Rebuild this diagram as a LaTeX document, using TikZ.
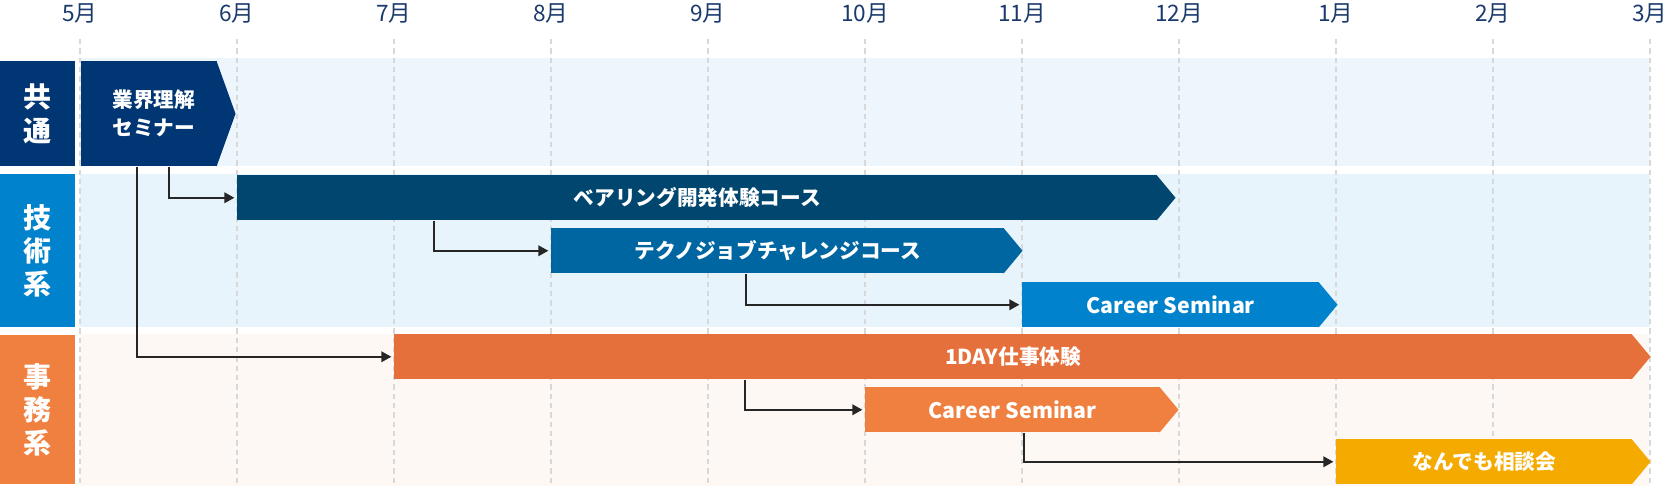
\documentclass[tikz,border=0pt]{standalone}
\usepackage{fontspec}
\setmainfont{Noto Sans CJK JP}
\usetikzlibrary{arrows.meta, calc}
\definecolor{monthNavy}{RGB}{26,58,108}
\definecolor{commonNavy}{RGB}{0,54,115}
\definecolor{techBlue}{RGB}{0,130,204}
\definecolor{officeOrange}{RGB}{240,128,64}
\definecolor{softCommon}{RGB}{238,246,253}
\definecolor{softTech}{RGB}{232,244,251}
\definecolor{softOffice}{RGB}{253,248,244}
\definecolor{bearingBlue}{RGB}{0,70,110}
\definecolor{technoBlue}{RGB}{0,102,161}
\definecolor{oneDayOrange}{RGB}{229,112,59}
\definecolor{consultYellow}{RGB}{245,170,0}
\definecolor{gridGray}{RGB}{216,216,216}
\tikzset{
    monthlabel/.style={
        text=monthNavy,
        inner sep=0pt,
        font=\fontsize{17}{17}\selectfont
    },
    rowbox/.style={
        rectangle,
        fill=#1,
        anchor=north west,
        inner sep=0pt,
        minimum width=56.25pt,
        align=center,
        text=white,
        font=\bfseries\fontsize{21}{25}\selectfont
    },
    barbox/.style={
        rectangle,
        fill=#1,
        anchor=north west,
        inner sep=0pt,
        minimum height=33.75pt,
        text=white,
        font=\bfseries\fontsize{15.5}{18}\selectfont
    },
    gridline/.style={draw=gridGray, line width=1.1pt, dash pattern=on 4pt off 3pt},
    linkarrow/.style={-{Triangle[length=7.5pt, width=8pt]}, line width=1.1pt, draw=black!85, shorten >=2pt}
}

\begin{document}
\begin{tikzpicture}[x=0.75pt, y=-0.75pt]
    \useasboundingbox (0,0) rectangle (1665,486);
    \fill[softCommon] (80,58) rectangle (1650,166);
    \fill[softTech] (80,174) rectangle (1650,327);
    \fill[softOffice] (80,334) rectangle (1650,486);
    \foreach \m [count=\k from 0] in {5,6,7,8,9,10,11,12,1,2,3} {
        \draw[gridline] (80+157*\k,39) -- (80+157*\k,486);
        \node[monthlabel] (month\k) at (80+157*\k,13) {\m 月};
    }
    \node[rowbox=commonNavy, minimum height=78.75pt] (common) at (0,61) {共\\通};
    \node[rowbox=techBlue, minimum height=114.75pt] (tech) at (0,174) {技\\術\\系};
    \node[rowbox=officeOrange, minimum height=111.75pt] (office) at (0,335) {事\\務\\系};
    \node[barbox=commonNavy, minimum width=102pt, minimum height=78.75pt, align=center,
        font=\bfseries\fontsize{15.5}{21}\selectfont] (semi) at (81,61) {\hspace*{7pt}業界理解\\\hspace*{7pt}セミナー};
    \node[barbox=bearingBlue, minimum width=690pt] (bear) at (237,175) {ベアリング開発体験コース};
    \node[barbox=technoBlue, minimum width=339.75pt] (techno) at (551,228) {テクノジョブチャレンジコース};
    \node[barbox=techBlue, minimum width=222.75pt, font=\bfseries\fontsize{16}{18}\selectfont] (careerT) at (1022,282) {Career Seminar};
    \node[barbox=oneDayOrange, minimum width=928.5pt] (oneday) at (394,334) {1DAY仕事体験};
    \node[barbox=officeOrange, minimum width=221.25pt, font=\bfseries\fontsize{16}{18}\selectfont] (careerO) at (865,387) {Career Seminar};
    \node[barbox=consultYellow, minimum width=222pt] (consult) at (1336,439) {なんでも相談会};
    \foreach \b/\c in {semi/commonNavy, bear/bearingBlue, techno/technoBlue, careerT/techBlue,
        oneday/oneDayOrange, careerO/officeOrange, consult/consultYellow}
        \fill[\c] ($(\b.north east)+(-1,0)$) -- ($(\b.east)+(18,0)$) -- ($(\b.south east)+(-1,0)$) -- cycle;
    \draw[linkarrow] ($(semi.south west)+(88,0)$) |- (bear.west);
    \draw[linkarrow] ($(semi.south west)+(56,0)$) |- (oneday.west);
    \draw[linkarrow] ($(bear.south west)+(197,0)$) |- (techno.west);
    \draw[linkarrow] ($(techno.south west)+(195,0)$) |- (careerT.west);
    \draw[linkarrow] ($(oneday.south west)+(351,0)$) |- (careerO.west);
    \draw[linkarrow] ($(careerO.south west)+(159,0)$) |- (consult.west);
\end{tikzpicture}
\end{document}
